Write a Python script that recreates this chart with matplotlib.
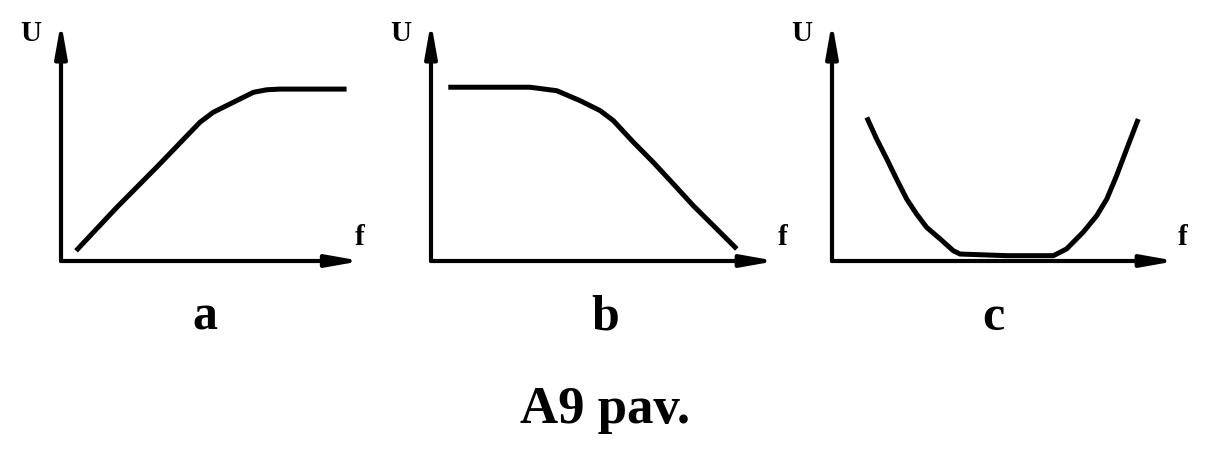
import matplotlib
matplotlib.use("Agg")
import matplotlib.pyplot as plt

plt.rcParams['font.family'] = ['Liberation Serif', 'DejaVu Serif']

# curve values (f and U in arbitrary units, axes run 0..10)
f_a = [0.51, 1.89, 3.24, 4.71, 5.16, 5.84, 6.52, 6.97, 7.42, 9.68]
u_a = [0.44, 2.31, 4.04, 5.98, 6.41, 6.84, 7.27, 7.38, 7.41, 7.41]

f_b = [0.51, 2.92, 3.71, 4.40, 4.99, 5.38, 5.97, 6.56, 7.15, 7.74, 8.43, 9.02]
u_b = [7.49, 7.49, 7.34, 6.91, 6.48, 6.05, 5.12, 4.25, 3.32, 2.38, 1.38, 0.52]

f_c = [1.03, 1.32, 1.62, 1.91, 2.21, 2.50, 2.80, 3.20, 3.59, 3.79, 5.17, 6.55,
       6.94, 7.43, 7.83, 8.13, 8.42, 8.72, 8.91, 9.06]
u_c = [6.19, 5.26, 4.40, 3.53, 2.67, 2.03, 1.45, 0.95, 0.44, 0.30, 0.23, 0.23,
       0.52, 1.24, 1.95, 2.67, 3.68, 4.83, 5.55, 6.12]

curves = [(f_a, u_a), (f_b, u_b), (f_c, u_c)]
panel_names = ['a', 'b', 'c']
title = 'A9 pav.'

W, H = 1212, 452
# axis origin (px), length of f axis (px)
origins = [(61, 262), (431, 262), (832, 262)]
f_len = [295, 339, 338]
u_len = 232
f_label_dx = [4, 13, 13]
name_x = [205, 605, 993]
over = 0.3  # arrow tips run a bit past 10

fig = plt.figure(figsize=(W / 100, H / 100), dpi=100)

for i, (fx, uy) in enumerate(curves):
    x0, y0 = origins[i]
    ax = fig.add_axes([x0 / W, (H - y0) / H, f_len[i] / W, u_len / H])
    ax.set_xlim(0, 10)
    ax.set_ylim(0, 10)
    ax.axis('off')

    arrow = dict(arrowstyle='-|>,head_length=0.9,head_width=0.16', color='black',
                 lw=3.0, mutation_scale=22, shrinkA=0, shrinkB=0)
    ax.annotate('', xy=(10 + over * 0.6, 0), xytext=(0, 0), arrowprops=arrow, annotation_clip=False)
    ax.annotate('', xy=(0, 10 + over), xytext=(0, 0), arrowprops=arrow, annotation_clip=False)

    ax.plot(fx, uy, color='black', lw=3.6, solid_capstyle='butt', solid_joinstyle='round',
            clip_on=False)

    ax.annotate('U', xy=(0, 10), xytext=(-30 * 0.72, -4 * 0.72), textcoords='offset points',
                ha='center', va='center', fontsize=21, fontweight='bold', annotation_clip=False)
    ax.annotate('f', xy=(10, 0), xytext=(f_label_dx[i] * 0.72, 24 * 0.72), textcoords='offset points',
                ha='center', va='center', fontsize=21, fontweight='bold', annotation_clip=False)

    fig.text(name_x[i] / W, 1 - 318 / H, panel_names[i], ha='center', va='center',
             fontsize=36, fontweight='bold')

fig.text(605 / W, 1 - 410 / H, title, ha='center', va='center', fontsize=38, fontweight='bold')

fig.savefig('out.png', dpi=100)
